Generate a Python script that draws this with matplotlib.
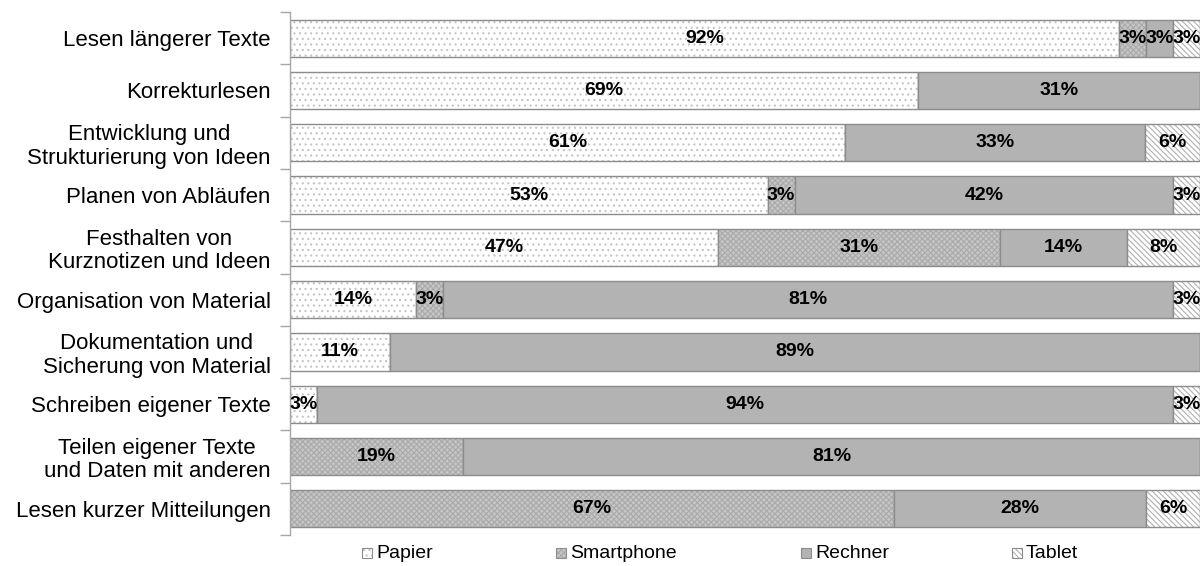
import matplotlib
matplotlib.use("Agg")
import matplotlib.pyplot as plt
import numpy as np
from matplotlib.patches import Rectangle

plt.rcParams['font.family'] = ['Liberation Sans', 'DejaVu Sans']
plt.rcParams['hatch.linewidth'] = 0.8

categories = [
    "Lesen längerer Texte",
    "Korrekturlesen",
    "Entwicklung und\nStrukturierung von Ideen",
    "Planen von Abläufen",
    "Festhalten von\nKurznotizen und Ideen",
    "Organisation von Material",
    "Dokumentation und\nSicherung von Material",
    "Schreiben eigener Texte",
    "Teilen eigener Texte\nund Daten mit anderen",
    "Lesen kurzer Mitteilungen",
]
series_names = ["Papier", "Smartphone", "Rechner", "Tablet"]
papier     = [92, 69, 61, 53, 47, 14, 11, 3, 0, 0]
smartphone = [3, 0, 0, 3, 31, 3, 0, 0, 19, 67]
rechner    = [3, 31, 33, 42, 14, 81, 89, 94, 81, 28]
tablet     = [3, 0, 6, 3, 8, 3, 0, 3, 0, 6]

styles = [
    dict(face="white", hatch="...", hcolor="#c4c4c4"),
    dict(face="#c6c6c6", hatch="xxxxxx", hcolor="#aaaaaa"),
    dict(face="#b3b3b3", hatch=None, hcolor=None),
    dict(face="white", hatch="\\\\\\\\\\\\", hcolor="#b0b0b0"),
]
edge = "#8c8c8c"

data = np.array([papier, smartphone, rechner, tablet], dtype=float)
shares = data / data.sum(axis=0) * 100

fig = plt.figure(figsize=(12.03, 5.66), dpi=100)
ax = fig.add_axes([290 / 1203, 1 - 535 / 566, (1200 - 290) / 1203, (535 - 12) / 566])

y = np.arange(len(categories))
left = np.zeros(len(categories))
bh = 0.71
for i, name in enumerate(series_names):
    st = styles[i]
    w = shares[i]
    ax.barh(y, w, left=left, height=bh, color=st["face"],
            hatch=st["hatch"], edgecolor=st["hcolor"] if st["hatch"] else st["face"],
            linewidth=0)
    ax.barh(y, w, left=left, height=bh, fill=False, edgecolor=edge, linewidth=1.0)
    for j in range(len(categories)):
        if data[i, j] > 0:
            ax.text(left[j] + w[j] / 2, y[j], f"{int(data[i, j])}%",
                    ha="center", va="center", fontsize=14, fontweight="bold", color="black")
    left = left + w

ax.set_xlim(0, 100)
ax.set_ylim(len(categories) - 0.5, -0.5)
ax.set_yticks(y)
ax.set_yticklabels(categories, fontsize=16, ha="right", multialignment="center",
                   linespacing=1.15)
ax.tick_params(axis="y", which="major", length=0, pad=14)
ax.set_yticks(np.arange(-0.5, len(categories) + 0.5, 1), minor=True)
ax.tick_params(axis="y", which="minor", length=7, color="#a6a6a6", width=1)
ax.set_xticks([])
for s in ["top", "right", "bottom"]:
    ax.spines[s].set_visible(False)
ax.spines["left"].set_color("#a6a6a6")
ax.spines["left"].set_linewidth(1)

# legend
handle_x = [362, 556, 801, 1012]
ly = 553
for i, name in enumerate(series_names):
    st = styles[i]
    x0 = handle_x[i] / 1203
    r = Rectangle((x0, 1 - (ly + 5) / 566), 10 / 1203, 10 / 566, transform=fig.transFigure,
                  facecolor=st["face"], hatch=st["hatch"],
                  edgecolor=st["hcolor"] if st["hatch"] else st["face"], linewidth=0)
    fig.add_artist(r)
    r2 = Rectangle((x0, 1 - (ly + 5) / 566), 10 / 1203, 10 / 566, transform=fig.transFigure,
                   fill=False, edgecolor=edge, linewidth=0.8)
    fig.add_artist(r2)
    fig.text((handle_x[i] + 14) / 1203, 1 - ly / 566, name, fontsize=14,
             ha="left", va="center")

fig.savefig("out.png", dpi=100)
